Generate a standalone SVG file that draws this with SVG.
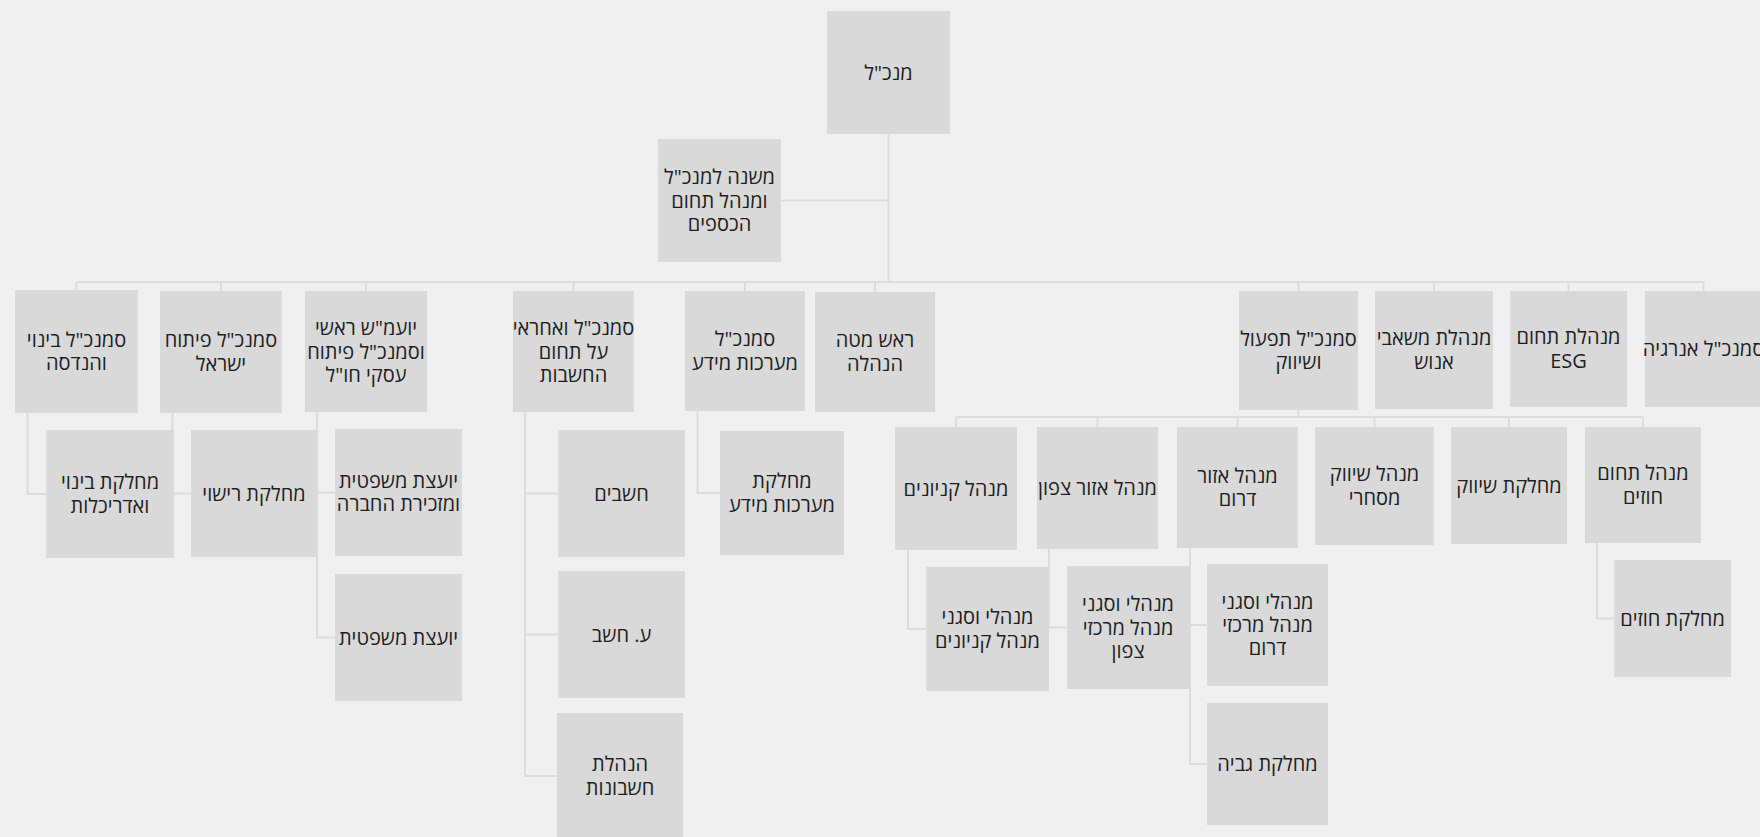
<svg xmlns="http://www.w3.org/2000/svg" width="1760" height="837" viewBox="0 0 1760 837">
<style>
.bg{fill:#f0f0f0}
.box{fill:#d9d9d9}
.lbl{font-family:"Open Sans","Noto Sans","DejaVu Sans",sans-serif;font-size:20px;fill:#1e1e1e;text-anchor:middle;direction:rtl}
.con{fill:none;stroke:#dcdcdc;stroke-width:2}
</style>
<rect class="bg" x="0" y="0" width="1760" height="837"/>
<g id="connectors">
<path class="con" d="M888.5 134V282M781 200.5H888.5M76.5 282H1703.5"/>
<path class="con" d="M76.5 282V290M221 282V291M366 282V291M573.5 282V291M745 282V291M875 282V292M1298.5 282V291M1434 282V291M1568.5 282V291M1703.5 282V291"/>
<path class="con" d="M27.5 413V494H46M172.5 413V493.5H191M317 412V637.5H335M317 492.5H335M525 412V776H557M525 493.5H558M525 634.5H558M697.5 411V493H720"/>
<path class="con" d="M1298.5 410V417M956 417H1643M956 417V427M1097.5 417V427M1237.5 417V427M1374.5 417V427M1509 417V427M1643 417V427"/>
<path class="con" d="M908 550V629H926M1049 549V627.5H1067M1190 548V764H1207M1190 625H1207M1597 543V618.5H1614"/>
</g>
<g id="n-root"><rect class="box" x="827" y="11" width="123" height="123"/><text class="lbl" x="888.5" y="79.5">מנכ"ל</text></g>
<g id="n-deputy"><rect class="box" x="658" y="139" width="123" height="123"/><text class="lbl" x="719.5" y="184.2"><tspan x="719.5">משנה למנכ"ל</tspan><tspan x="719.5" dy="23.3">ומנהל תחום</tspan><tspan x="719.5" dy="23.3">הכספים</tspan></text></g>
<g id="n-eng"><rect class="box" x="15" y="290" width="123" height="123"/><text class="lbl" x="76.5" y="346.85"><tspan x="76.5">סמנכ"ל בינוי</tspan><tspan x="76.5" dy="23.3">והנדסה</tspan></text></g>
<g id="n-devil"><rect class="box" x="160" y="291" width="122" height="122"/><text class="lbl" x="221" y="347.35"><tspan x="221">סמנכ"ל פיתוח</tspan><tspan x="221" dy="23.3">ישראל</tspan></text></g>
<g id="n-legal"><rect class="box" x="305" y="291" width="122" height="121"/><text class="lbl" x="366" y="335.2"><tspan x="366">יועמ"ש ראשי</tspan><tspan x="366" dy="23.3">וסמנכ"ל פיתוח</tspan><tspan x="366" dy="23.3">עסקי חו"ל</tspan></text></g>
<g id="n-acct"><rect class="box" x="513" y="291" width="121" height="121"/><text class="lbl" x="573.5" y="335.2"><tspan x="573.5">סמנכ"ל ואחראי</tspan><tspan x="573.5" dy="23.3">על תחום</tspan><tspan x="573.5" dy="23.3">החשבות</tspan></text></g>
<g id="n-it"><rect class="box" x="685" y="291" width="120" height="120"/><text class="lbl" x="745" y="346.35"><tspan x="745">סמנכ"ל</tspan><tspan x="745" dy="23.3">מערכות מידע</tspan></text></g>
<g id="n-staff"><rect class="box" x="815" y="292" width="120" height="120"/><text class="lbl" x="875" y="347.35"><tspan x="875">ראש מטה</tspan><tspan x="875" dy="23.3">הנהלה</tspan></text></g>
<g id="n-ops"><rect class="box" x="1239" y="291" width="119" height="119"/><text class="lbl" x="1298.5" y="345.85"><tspan x="1298.5">סמנכ"ל תפעול</tspan><tspan x="1298.5" dy="23.3">ושיווק</tspan></text></g>
<g id="n-hr"><rect class="box" x="1375" y="291" width="118" height="118"/><text class="lbl" x="1434" y="345.35"><tspan x="1434">מנהלת משאבי</tspan><tspan x="1434" dy="23.3">אנוש</tspan></text></g>
<g id="n-esg"><rect class="box" x="1510" y="291" width="117" height="116"/><text class="lbl" x="1568.5" y="344.35"><tspan x="1568.5">מנהלת תחום</tspan><tspan x="1568.5" dy="23.3">ESG</tspan></text></g>
<g id="n-energy"><rect class="box" x="1645" y="291" width="117" height="116"/><text class="lbl" x="1703.5" y="356">סמנכ"ל אנרגיה</text></g>
<g id="n-arch"><rect class="box" x="46" y="430" width="128" height="128"/><text class="lbl" x="110" y="489.35"><tspan x="110">מחלקת בינוי</tspan><tspan x="110" dy="23.3">ואדריכלות</tspan></text></g>
<g id="n-lic"><rect class="box" x="191" y="430" width="126" height="127"/><text class="lbl" x="254" y="500.5">מחלקת רישוי</text></g>
<g id="n-sec"><rect class="box" x="335" y="429" width="127" height="127"/><text class="lbl" x="398.5" y="487.85"><tspan x="398.5">יועצת משפטית</tspan><tspan x="398.5" dy="23.3">ומזכירת החברה</tspan></text></g>
<g id="n-counsel"><rect class="box" x="335" y="574" width="127" height="127"/><text class="lbl" x="398.5" y="644.5">יועצת משפטית</text></g>
<g id="n-ctrl"><rect class="box" x="558" y="430" width="127" height="127"/><text class="lbl" x="621.5" y="500.5">חשבים</text></g>
<g id="n-actrl"><rect class="box" x="558" y="571" width="127" height="127"/><text class="lbl" x="621.5" y="641.5">ע. חשב</text></g>
<g id="n-book"><rect class="box" x="557" y="713" width="126" height="127"/><text class="lbl" x="620" y="771.35"><tspan x="620">הנהלת</tspan><tspan x="620" dy="23.3">חשבונות</tspan></text></g>
<g id="n-itdep"><rect class="box" x="720" y="431" width="124" height="124"/><text class="lbl" x="782" y="488.35"><tspan x="782">מחלקת</tspan><tspan x="782" dy="23.3">מערכות מידע</tspan></text></g>
<g id="n-malls"><rect class="box" x="895" y="427" width="122" height="123"/><text class="lbl" x="956" y="495.5">מנהל קניונים</text></g>
<g id="n-north"><rect class="box" x="1037" y="427" width="121" height="122"/><text class="lbl" x="1097.5" y="495">מנהל אזור צפון</text></g>
<g id="n-south"><rect class="box" x="1177" y="427" width="121" height="121"/><text class="lbl" x="1237.5" y="482.85"><tspan x="1237.5">מנהל אזור</tspan><tspan x="1237.5" dy="23.3">דרום</tspan></text></g>
<g id="n-commerce"><rect class="box" x="1315" y="427" width="119" height="118"/><text class="lbl" x="1374.5" y="481.35"><tspan x="1374.5">מנהל שיווק</tspan><tspan x="1374.5" dy="23.3">מסחרי</tspan></text></g>
<g id="n-mkt"><rect class="box" x="1451" y="427" width="116" height="117"/><text class="lbl" x="1509" y="492.5">מחלקת שיווק</text></g>
<g id="n-contracts"><rect class="box" x="1585" y="427" width="116" height="116"/><text class="lbl" x="1643" y="480.35"><tspan x="1643">מנהל תחום</tspan><tspan x="1643" dy="23.3">חוזים</tspan></text></g>
<g id="n-mallmgr"><rect class="box" x="926" y="567" width="123" height="124"/><text class="lbl" x="987.5" y="624.35"><tspan x="987.5">מנהלי וסגני</tspan><tspan x="987.5" dy="23.3">מנהל קניונים</tspan></text></g>
<g id="n-northmgr"><rect class="box" x="1067" y="566" width="122" height="123"/><text class="lbl" x="1128" y="611.2"><tspan x="1128">מנהלי וסגני</tspan><tspan x="1128" dy="23.3">מנהל מרכזי</tspan><tspan x="1128" dy="23.3">צפון</tspan></text></g>
<g id="n-southmgr"><rect class="box" x="1207" y="564" width="121" height="122"/><text class="lbl" x="1267.5" y="608.7"><tspan x="1267.5">מנהלי וסגני</tspan><tspan x="1267.5" dy="23.3">מנהל מרכזי</tspan><tspan x="1267.5" dy="23.3">דרום</tspan></text></g>
<g id="n-collect"><rect class="box" x="1207" y="703" width="121" height="122"/><text class="lbl" x="1267.5" y="771">מחלקת גביה</text></g>
<g id="n-contdep"><rect class="box" x="1614" y="560" width="117" height="117"/><text class="lbl" x="1672.5" y="625.5">מחלקת חוזים</text></g>
</svg>
